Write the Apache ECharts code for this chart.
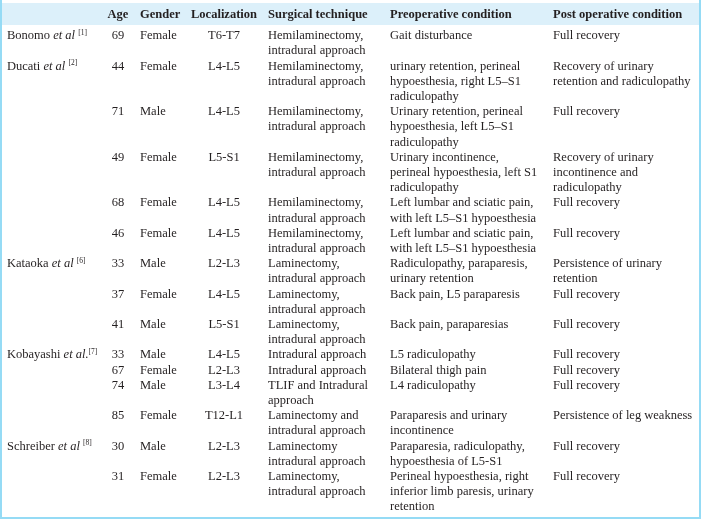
<!DOCTYPE html>
<html>
<head>
<meta charset="utf-8">
<script src="https://cdn.jsdelivr.net/npm/echarts@6/dist/echarts.min.js"></script>
<style>
  html, body { margin: 0; padding: 0; background: #fff; }
  #main { width: 701px; height: 519px; }
</style>
</head>
<body>
<div id="main"></div>
<script>
// table content
var headers = ['', 'Age', 'Gender', 'Localization', 'Surgical technique', 'Preoperative condition', 'Post operative condition'];

var authors = [
  'Bonomo {i|et al} {s|[1]}', 'Ducati {i|et al} {s|[2]}', '', '', '', '',
  'Kataoka {i|et al} {s|[6]}', '', '',
  'Kobayashi {i|et al.}{s|[7]}', '', '', '',
  'Schreiber {i|et al} {s|[8]}', ''
];
var ages = ['69', '44', '71', '49', '68', '46', '33', '37', '41', '33', '67', '74', '85', '30', '31'];
var genders = ['Female', 'Female', 'Male', 'Female', 'Female', 'Female', 'Male', 'Female', 'Male',
  'Male', 'Female', 'Male', 'Female', 'Male', 'Female'];
var localizations = ['T6-T7', 'L4-L5', 'L4-L5', 'L5-S1', 'L4-L5', 'L4-L5', 'L2-L3', 'L4-L5', 'L5-S1',
  'L4-L5', 'L2-L3', 'L3-L4', 'T12-L1', 'L2-L3', 'L2-L3'];
var techniques = [
  'Hemilaminectomy,\nintradural approach',
  'Hemilaminectomy,\nintradural approach',
  'Hemilaminectomy,\nintradural approach',
  'Hemilaminectomy,\nintradural approach',
  'Hemilaminectomy,\nintradural approach',
  'Hemilaminectomy,\nintradural approach',
  'Laminectomy,\nintradural approach',
  'Laminectomy,\nintradural approach',
  'Laminectomy,\nintradural approach',
  'Intradural approach',
  'Intradural approach',
  'TLIF and Intradural\napproach',
  'Laminectomy and\nintradural approach',
  'Laminectomy\nintradural approach',
  'Laminectomy,\nintradural approach'
];
var preop = [
  'Gait disturbance',
  'urinary retention, perineal\nhypoesthesia, right L5–S1\nradiculopathy',
  'Urinary retention, perineal\nhypoesthesia, left L5–S1\nradiculopathy',
  'Urinary incontinence,\nperineal hypoesthesia, left S1\nradiculopathy',
  'Left lumbar and sciatic pain,\nwith left L5–S1 hypoesthesia',
  'Left lumbar and sciatic pain,\nwith left L5–S1 hypoesthesia',
  'Radiculopathy, paraparesis,\nurinary retention',
  'Back pain, L5 paraparesis',
  'Back pain, paraparesias',
  'L5 radiculopathy',
  'Bilateral thigh pain',
  'L4 radiculopathy',
  'Paraparesis and urinary\nincontinence',
  'Paraparesia, radiculopathy,\nhypoesthesia of L5-S1',
  'Perineal hypoesthesia, right\ninferior limb paresis, urinary\nretention'
];
var postop = [
  'Full recovery',
  'Recovery of urinary\nretention and radiculopathy',
  'Full recovery',
  'Recovery of urinary\nincontinence and\nradiculopathy',
  'Full recovery',
  'Full recovery',
  'Persistence of urinary\nretention',
  'Full recovery',
  'Full recovery',
  'Full recovery',
  'Full recovery',
  'Full recovery',
  'Persistence of leg weakness',
  'Full recovery',
  'Full recovery'
];

// layout
var colX = [7, 118, 140, 224, 268, 390, 553];
var colAlign = ['left', 'center', 'left', 'center', 'left', 'left', 'left'];
var headerLine = -1.38;
var textColor = '#231f20';
var fontFamily = '"Liberation Serif", "DejaVu Serif", serif';

var columns = [authors, ages, genders, localizations, techniques, preop, postop];

// one item per text line: [col, line, text]
var cells = [];
var line = 0;
for (var r = 0; r < ages.length; r++) {
  var rowLines = 1;
  for (var c = 0; c < columns.length; c++) {
    var parts = columns[c][r].split('\n');
    rowLines = Math.max(rowLines, parts.length);
    for (var k = 0; k < parts.length; k++) {
      if (parts[k]) cells.push([c, line + k, parts[k]]);
    }
  }
  line += rowLines;
}
var headerCells = headers.map(function (h, i) { return [i, headerLine, h]; });

var rich = {
  i: { fontStyle: 'italic', fontSize: 12.5, fontFamily: fontFamily, color: textColor },
  s: { fontSize: 7.5, fontFamily: fontFamily, color: textColor, verticalAlign: 'top', padding: [0, 0, 6, 0] }
};

function textRenderer(bold) {
  return function (params, api) {
    var c = api.value(0);
    var y = api.coord([0, api.value(1)])[1];
    return {
      type: 'text',
      x: colX[c],
      y: y,
      style: {
        text: cells.length && bold ? headerCells[params.dataIndex][2] : cells[params.dataIndex][2],
        fill: textColor,
        font: (bold ? 'bold ' : '') + '12.5px ' + fontFamily,
        align: colAlign[c],
        verticalAlign: 'middle',
        rich: rich
      }
    };
  };
}

var chart = echarts.init(document.getElementById('main'));
chart.setOption({
  backgroundColor: '#ffffff',
  animation: false,
  grid: { left: 0, right: 0, top: 5.6, bottom: 11.8 },
  xAxis: { type: 'value', min: 0, max: 701, show: false },
  yAxis: { type: 'value', min: -2, max: 31, inverse: true, show: false },
  graphic: [
    { type: 'rect', shape: { x: 0, y: 3, width: 701, height: 22 }, style: { fill: '#dcf0fa' }, z: -10 },
    { type: 'rect', shape: { x: 0, y: 0, width: 2, height: 519 }, style: { fill: '#95dbf5' } },
    { type: 'rect', shape: { x: 699, y: 0, width: 2, height: 519 }, style: { fill: '#95dbf5' } },
    { type: 'rect', shape: { x: 0, y: 517, width: 701, height: 2 }, style: { fill: '#95dbf5' } }
  ],
  series: [
    {
      type: 'custom',
      name: 'header',
      data: headerCells,
      renderItem: textRenderer(true)
    },
    {
      type: 'custom',
      name: 'body',
      data: cells,
      renderItem: textRenderer(false)
    }
  ]
});
</script>
</body>
</html>
